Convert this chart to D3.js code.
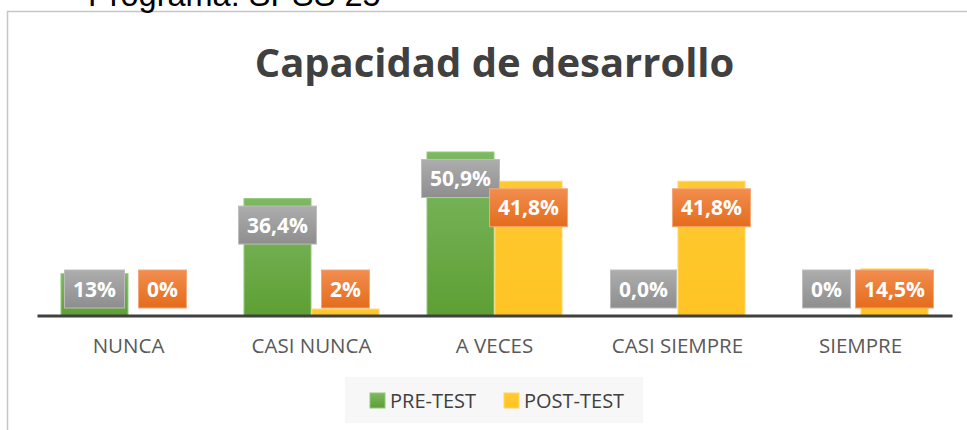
<!DOCTYPE html>
<html>
<head>
<meta charset="utf-8">
<script src="https://cdn.jsdelivr.net/npm/d3@7"></script>
<style>
    body { margin: 0; background: #fff; }
    svg { display: block; }
</style>
</head>
<body>
<div id="chart"></div>
<script>
var categories = ["NUNCA", "CASI NUNCA", "A VECES", "CASI SIEMPRE", "SIEMPRE"];
var seriesNames = ["PRE-TEST", "POST-TEST"];
var preTest = [13, 36.4, 50.9, 0, 0];
var postTest = [0, 2, 41.8, 41.8, 14.5];
var preLabels = ["13%", "36,4%", "50,9%", "0,0%", "0%"];
var postLabels = ["0%", "2%", "41,8%", "41,8%", "14,5%"];

var width = 967,
    height = 430;

var svg = d3.select("#chart").append("svg")
    .attr("width", width)
    .attr("height", height);

var defs = svg.append("defs");

function vGradient(id, top, bottom) {
    var g = defs.append("linearGradient")
        .attr("id", id)
        .attr("x1", 0).attr("y1", 0)
        .attr("x2", 0).attr("y2", 1);
    g.append("stop").attr("offset", "0%").attr("stop-color", top);
    g.append("stop").attr("offset", "100%").attr("stop-color", bottom);
}
vGradient("gPre", "#7db862", "#5e9f34");
vGradient("gPost", "#ffc932", "#ffc423");
vGradient("gGray", "#adadad", "#8e8e8e");
vGradient("gOrange", "#f28d4f", "#e46c1c");

// chart frame
svg.append("path")
    .attr("d", "M7.5,430 V11.5 H967")
    .attr("fill", "none")
    .attr("stroke", "#c6c6c6")
    .attr("stroke-width", 1.5);

// text above the frame, cut off by the top of the picture (as in the reference)
svg.append("text")
    .attr("x", 88)
    .attr("y", 6)
    .style("font-family", "'Liberation Sans', Arial, sans-serif")
    .style("font-size", "32.5px")
    .style("fill", "#000")
    .text("Programa: SPSS 25");

svg.append("text")
    .attr("x", 494.5)
    .attr("y", 77)
    .attr("text-anchor", "middle")
    .style("font-family", "'Open Sans', sans-serif")
    .style("font-weight", "bold")
    .style("font-size", "40px")
    .style("fill", "#404040")
    .text("Capacidad de desarrollo");

var x0 = d3.scaleBand()
    .domain(categories)
    .range([37, 952])
    .paddingInner(0.257)
    .paddingOuter(0.1285);

var x1 = d3.scaleBand()
    .domain(seriesNames)
    .range([0, x0.bandwidth()]);

var y = d3.scaleLinear()
    .domain([0, 60])
    .range([315.5, 122.8]);

var rows = categories.map(function(c, i) {
    return [
        { cat: c, s: "PRE-TEST", v: preTest[i], label: preLabels[i] },
        { cat: c, s: "POST-TEST", v: postTest[i], label: postLabels[i] }
    ];
});
var flat = d3.merge(rows);

svg.append("g").selectAll("rect")
    .data(flat)
    .enter()
    .append("rect")
    .attr("x", function(d) { return x0(d.cat) + x1(d.s) + 0.5; })
    .attr("width", x1.bandwidth() - 1)
    .attr("y", function(d) { return y(d.v); })
    .attr("height", function(d) { return y(0) - y(d.v); })
    .attr("fill", function(d) { return d.s == "PRE-TEST" ? "url(#gPre)" : "url(#gPost)"; })
    .attr("stroke", function(d) { return d.s == "PRE-TEST" ? "#93c777" : "#ffd766"; })
    .attr("stroke-width", function(d) { return d.v > 0 ? 1 : 0; });

// axis line + category labels
var xAxis = d3.axisBottom(x0)
    .tickSize(0)
    .tickSizeOuter(0)
    .tickPadding(23);

var gx = svg.append("g")
    .attr("transform", "translate(0," + y(0) + ")")
    .call(xAxis);
gx.select(".domain")
    .attr("stroke", "#404040")
    .attr("stroke-width", 3);
gx.selectAll("text")
    .style("font-family", "'Open Sans', sans-serif")
    .style("font-size", "20.5px")
    .style("fill", "#595959");

// data label boxes
var boxH = 38;
function drawLabels(series, fillId, stroke) {
    var g = svg.append("g").selectAll("g")
        .data(flat.filter(function(d) { return d.s == series; }))
        .enter()
        .append("g")
        .attr("transform", function(d) {
            var cx = x0(d.cat) + x1(d.s) + x1.bandwidth() / 2;
            var top = Math.min(y(d.v) + 7.5, y(0) - 7.5 - boxH);
            return "translate(" + cx + "," + top + ")";
        });

    var txt = g.append("text")
        .attr("text-anchor", "middle")
        .attr("y", 26.5)
        .style("font-family", "'Open Sans', sans-serif")
        .style("font-weight", "bold")
        .style("font-size", "21px")
        .style("fill", "#fff")
        .text(function(d) { return d.label; });

    txt.each(function(d) {
        d.tw = this.getComputedTextLength();
    });

    g.insert("rect", "text")
        .attr("x", function(d) { return -(d.tw / 2 + 8.5); })
        .attr("width", function(d) { return d.tw + 17; })
        .attr("height", boxH)
        .attr("fill", "url(#" + fillId + ")")
        .attr("stroke", stroke)
        .attr("stroke-width", 1);
}
drawLabels("PRE-TEST", "gGray", "#bdbdbd");
drawLabels("POST-TEST", "gOrange", "#f4a878");

// legend
var legend = svg.append("g");
legend.append("rect")
    .attr("x", 345)
    .attr("y", 377)
    .attr("width", 298)
    .attr("height", 46)
    .attr("fill", "#f7f7f7");

var legendX = [370, 504];
var item = legend.selectAll("g.item")
    .data(seriesNames)
    .enter()
    .append("g")
    .attr("class", "item")
    .attr("transform", function(d, i) { return "translate(" + legendX[i] + ",393)"; });

item.append("rect")
    .attr("width", 15)
    .attr("height", 15)
    .attr("fill", function(d, i) { return i == 0 ? "url(#gPre)" : "url(#gPost)"; })
    .attr("stroke", function(d, i) { return i == 0 ? "#93c777" : "#ffd766"; })
    .attr("stroke-width", 1);

item.append("text")
    .attr("x", 20)
    .attr("y", 14.5)
    .style("font-family", "'Open Sans', sans-serif")
    .style("font-size", "20px")
    .style("fill", "#404040")
    .text(function(d) { return d; });
</script>
</body>
</html>
